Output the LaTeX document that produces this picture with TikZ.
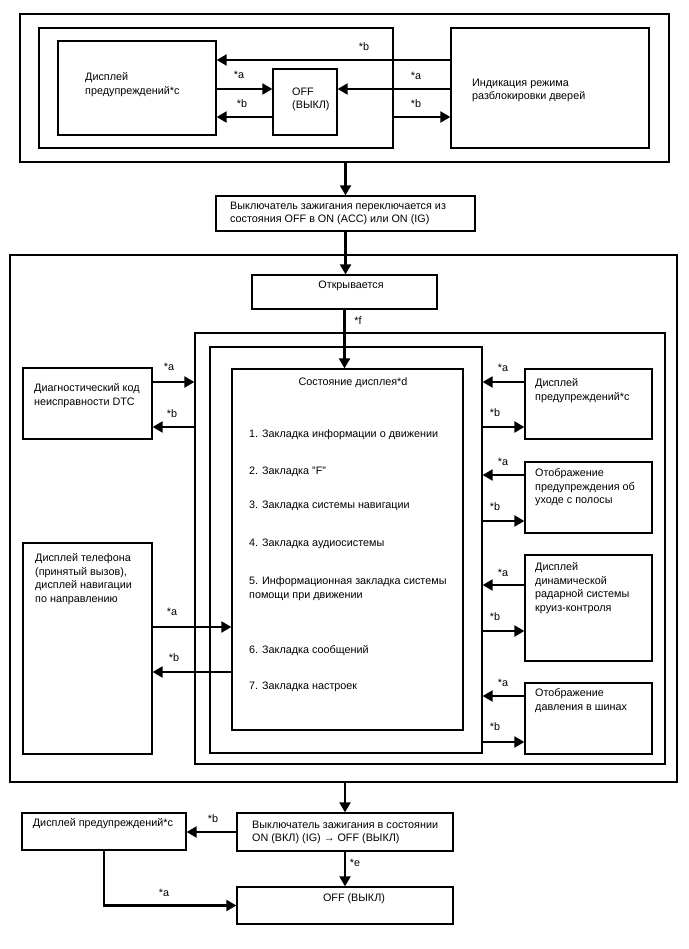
\documentclass[tikz,border=0pt]{standalone}
\usepackage{fontspec}
\setmainfont{Liberation Sans}
\usetikzlibrary{arrows.meta}
\newcommand\txtsz{\fontsize{10.8}{13.6}\selectfont}
\tikzset{
  box/.style={draw, line width=1.3pt, inner sep=0pt},
  arr/.style={line width=2.2pt, -{Triangle[length=10pt,width=11pt]}},
  txt/.style={align=left, inner sep=0pt, anchor=north west, font=\txtsz},
  one/.style={inner sep=0pt, font=\txtsz},
  lbl/.style={inner sep=0pt, font=\txtsz},
}
\begin{document}
\begin{tikzpicture}[x=1pt,y=-1pt]
\useasboundingbox (0,0) rectangle (688,949);
% ---------- top section
\node[box, minimum width=649, minimum height=148] (topframe) at (344.5,88) {};
\node[box, minimum width=354, minimum height=120] (inleft) at (216,88) {};
\node[box, minimum width=158, minimum height=94] (disp1) at (137,88) {};
\node[box, minimum width=64, minimum height=66] (off1) at (305,102) {};
\node[box, minimum width=198, minimum height=120] (door) at (550,88) {};
\node[txt] (tdisp1) at (85,72.5) {Дисплей\\предупреждений*c};
\node[txt] (toff1) at (292,87.5) {OFF\\(ВЫКЛ)};
\node[txt] (tdoor) at (472,78.5) {Индикация режима\\разблокировки дверей};
\draw[arr] (door.west |- 0,60) -- (disp1.east |- 0,60);
\draw[arr] (disp1.east |- 0,89) -- (off1.west |- 0,89);
\draw[arr] (off1.west |- 0,117) -- (disp1.east |- 0,117);
\draw[arr] (door.west |- 0,89) -- (off1.east |- 0,89);
\draw[arr] (inleft.east |- 0,117) -- (door.west |- 0,117);
\node[lbl] (l1) at (364,47) {*b};
\node[lbl] (l2) at (239,75) {*a};
\node[lbl] (l3) at (242,104) {*b};
\node[lbl] (l4) at (416,76) {*a};
\node[lbl] (l5) at (416,104) {*b};
% ---------- ignition on
\node[box, minimum width=259, minimum height=35] (ign1) at (345.5,213.5) {};
\node[txt] (tign1) at (230,201.5) {Выключатель зажигания переключается из\\состояния OFF в ON (ACC) или ON (IG)};
\draw[arr] (ign1.north |- topframe.south) -- (ign1.north);
% ---------- big frame
\node[box, minimum width=667, minimum height=527] (bigframe) at (343.5,518.5) {};
\node[box, minimum width=185, minimum height=34] (opens) at (344.5,292) {};
\node[one] (topens) at (351,286) {Открывается};
\draw[arr] (ign1.south) -- (ign1.south |- opens.north);
\node[box, minimum width=470, minimum height=431] (frameA) at (430,548.5) {};
\node[box, minimum width=272, minimum height=406] (frameB) at (346,550) {};
\node[box, minimum width=231, minimum height=361] (state) at (347.5,549.5) {};
\draw[arr] (opens.south) -- (opens.south |- state.north);
\node[lbl] (lf) at (358,321) {*f};
\node[one] (tstate) at (353,383) {Состояние дисплея*d};
\node[one, anchor=west] (it1) at (249,435) {1. Закладка информации о движении};
\node[one, anchor=west] (it2) at (249,472) {2. Закладка "F"};
\node[one, anchor=west] (it3) at (249,506) {3. Закладка системы навигации};
\node[one, anchor=west] (it4) at (249,544) {4. Закладка аудиосистемы};
\node[txt] (it5) at (249,576.5) {5. Информационная закладка системы\\помощи при движении};
\node[one, anchor=west] (it6) at (249,651) {6. Закладка сообщений};
\node[one, anchor=west] (it7) at (249,687) {7. Закладка настроек};
% left boxes
\node[box, minimum width=129, minimum height=71] (dtc) at (87.5,403.5) {};
\node[txt] (tdtc) at (34,383.5) {Диагностический код\\неисправности DTC};
\node[box, minimum width=129, minimum height=211] (phone) at (87.5,648.5) {};
\node[txt] (tphone) at (35,553.5) {Дисплей телефона\\(принятый вызов),\\дисплей навигации\\по направлению};
\draw[arr] (dtc.east |- 0,382) -- (frameA.west |- 0,382);
\draw[arr] (frameA.west |- 0,427) -- (dtc.east |- 0,427);
\draw[arr] (phone.east |- 0,627) -- (state.west |- 0,627);
\draw[arr] (state.west |- 0,672) -- (phone.east |- 0,672);
\node[lbl] (la1) at (169,367) {*a};
\node[lbl] (lb1) at (172,414) {*b};
\node[lbl] (la2) at (172,612) {*a};
\node[lbl] (lb2) at (174,658) {*b};
% right boxes
\node[box, minimum width=127, minimum height=70] (r1) at (588.5,404) {};
\node[box, minimum width=127, minimum height=71] (r2) at (588.5,497.5) {};
\node[box, minimum width=127, minimum height=106] (r3) at (588.5,608) {};
\node[box, minimum width=127, minimum height=71] (r4) at (588.5,718.5) {};
\node[txt] (tr1) at (535,378.5) {Дисплей\\предупреждений*c};
\node[txt] (tr2) at (535,468.5) {Отображение\\предупреждения об\\уходе с полосы};
\node[txt] (tr3) at (535,562.5) {Дисплей\\динамической\\радарной системы\\круиз-контроля};
\node[txt] (tr4) at (535,688.5) {Отображение\\давления в шинах};
\draw[arr] (r1.west |- 0,382) -- (frameB.east |- 0,382);
\draw[arr] (frameB.east |- 0,427) -- (r1.west |- 0,427);
\draw[arr] (r2.west |- 0,475) -- (frameB.east |- 0,475);
\draw[arr] (frameB.east |- 0,521) -- (r2.west |- 0,521);
\draw[arr] (r3.west |- 0,585) -- (frameB.east |- 0,585);
\draw[arr] (frameB.east |- 0,631) -- (r3.west |- 0,631);
\draw[arr] (r4.west |- 0,696) -- (frameB.east |- 0,696);
\draw[arr] (frameB.east |- 0,742) -- (r4.west |- 0,742);
\node[lbl] (ra1) at (503,368) {*a};
\node[lbl] (rb1) at (495,413) {*b};
\node[lbl] (ra2) at (503,462) {*a};
\node[lbl] (rb2) at (495,507) {*b};
\node[lbl] (ra3) at (503,573) {*a};
\node[lbl] (rb3) at (495,617) {*b};
\node[lbl] (ra4) at (503,683) {*a};
\node[lbl] (rb4) at (495,727) {*b};
% ---------- bottom section
\node[box, minimum width=164, minimum height=37] (disp2) at (104,831.5) {};
\node[box, minimum width=216, minimum height=38] (ign2) at (345,832) {};
\node[box, minimum width=216, minimum height=37] (off2) at (345,905.5) {};
\node[one] (tdisp2) at (103,824) {Дисплей предупреждений*c};
\node[txt] (tign2) at (252,820.5) {Выключатель зажигания в состоянии\\ON (ВКЛ) (IG) → OFF (ВЫКЛ)};
\node[one] (toff2) at (354,899) {OFF (ВЫКЛ)};
\draw[arr] (ign2.north |- bigframe.south) -- (ign2.north);
\draw[arr] (ign2.west) -- (ign2.west -| disp2.east);
\draw[arr] (ign2.south) -- (off2.north);
\draw[arr] (disp2.south) |- (off2.west);
\node[lbl] (lbb) at (213,819) {*b};
\node[lbl] (le) at (355,863) {*e};
\node[lbl] (lab) at (164,893) {*a};
\end{tikzpicture}
\end{document}
